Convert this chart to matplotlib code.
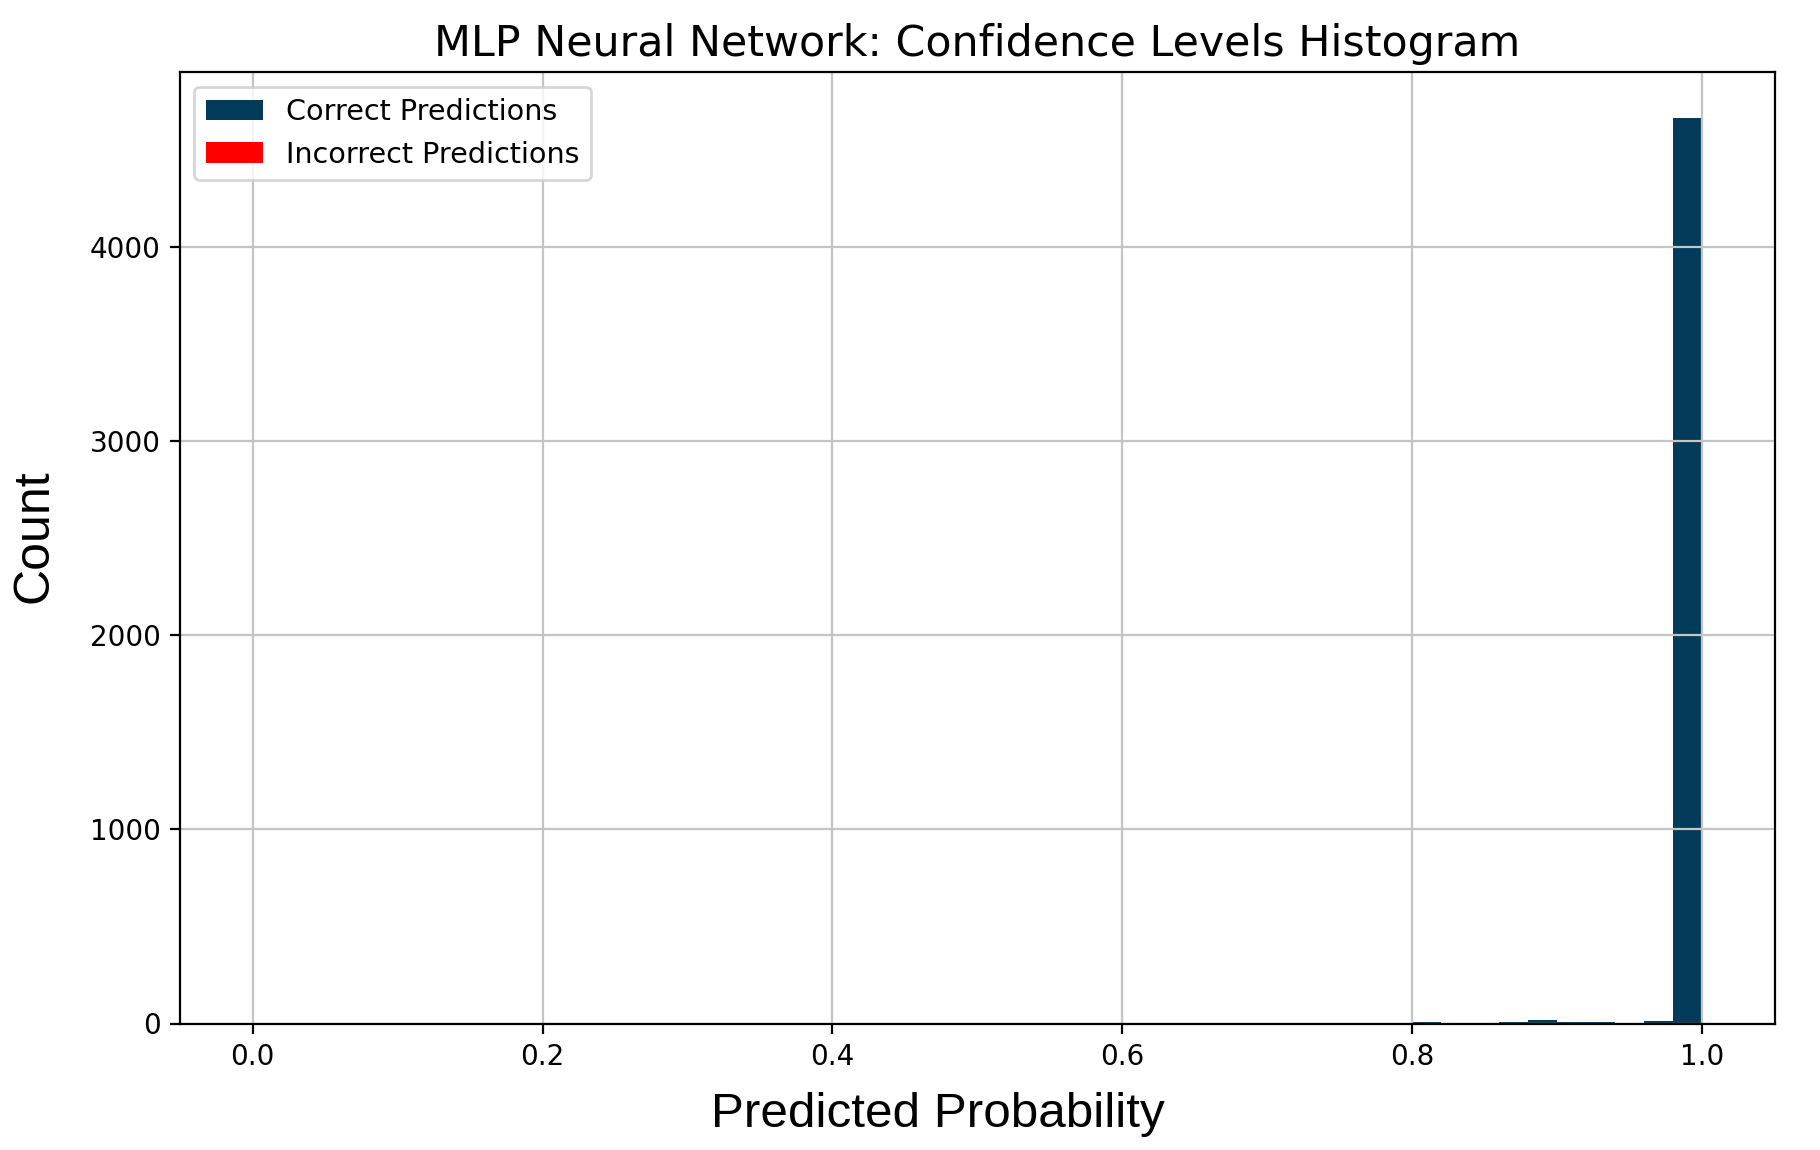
import numpy as np
import matplotlib
matplotlib.use("Agg")
import matplotlib.pyplot as plt

# bin edges (50 bins on 0..1) and counts
bin_edges = np.linspace(0.0, 1.0, 51)
correct_bins = [0.68, 0.76, 0.78, 0.80, 0.86, 0.88, 0.90, 0.94, 0.96, 0.98]
correct_counts = [5, 5, 5, 8, 8, 17, 8, 8, 13, 4665]
incorrect_bins = []
incorrect_counts = []

title = "MLP Neural Network: Confidence Levels Histogram"
xlab = "Predicted Probability"
ylab = "Count"

fig, ax = plt.subplots(figsize=(9.1, 5.75), dpi=200)

# weights trick so plt.hist uses the binned counts directly
ax.hist(correct_bins, bins=bin_edges, weights=correct_counts,
        color="#023a5a", label="Correct Predictions")
ax.hist(incorrect_bins, bins=bin_edges, weights=incorrect_counts,
        color="red", label="Incorrect Predictions")

ax.set_title(title, fontsize=15.4)
ax.set_xlabel(xlab, fontsize=17.8, family="Liberation Sans")
ax.set_ylabel(ylab, fontsize=18, family="Liberation Sans")
# labels sit a bit off-centre in the original
ax.xaxis.set_label_coords(0.475, -0.072)
ax.yaxis.set_label_coords(-0.077, 0.512)
ax.tick_params(labelsize=10)
ax.grid(True, color="#c4c4c4")
ax.legend(loc="upper left", fontsize=10.3)

fig.subplots_adjust(left=0.099, right=0.975, top=0.937, bottom=0.11)
fig.savefig("out.png")
